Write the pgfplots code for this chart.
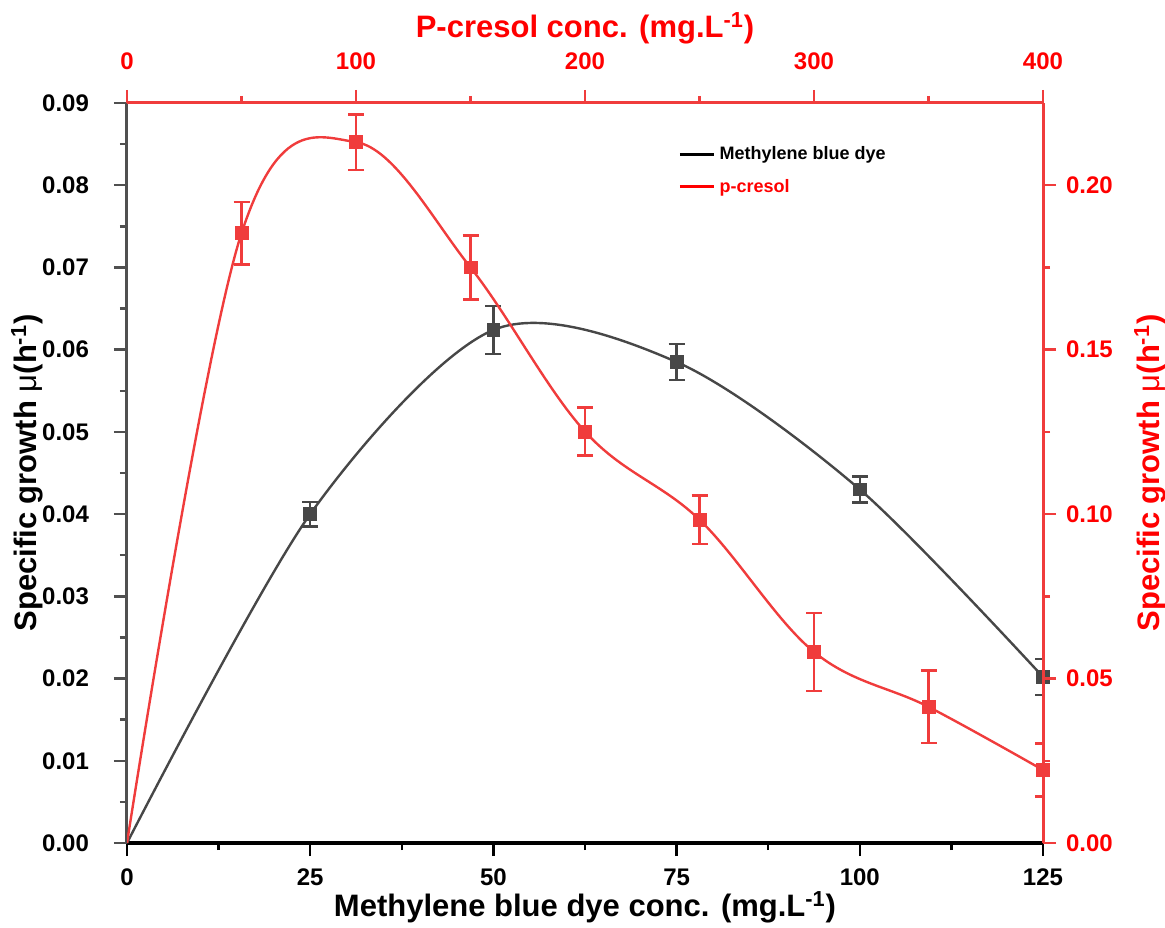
\documentclass[border=0pt]{standalone}
\usepackage{pgfplots}
\pgfplotsset{compat=1.18}
\usepackage{fontspec}
\setmainfont{Liberation Sans}
\definecolor{mbgray}{HTML}{474747}
\definecolor{axgray}{HTML}{505050}
\definecolor{pcred}{HTML}{F03C3C}
\definecolor{txtred}{HTML}{FF0000}

\begin{document}
\begin{tikzpicture}
\pgfplotsset{
  every axis/.append style={
    scale only axis, width=458pt, height=370pt,
    tick align=outside,
    major tick length=6.5pt, minor tick length=3.5pt,
    /pgf/number format/assume math mode=true,
    tick label style={font=\bfseries\fontsize{12}{12}\selectfont},
    label style={font=\bfseries\fontsize{15.5}{16}\selectfont},
  },
  twodec/.style={
    /pgf/number format/fixed,
    /pgf/number format/fixed zerofill,
    /pgf/number format/precision=2,
  },
  ebars/.style={
    error bars/.cd, y dir=both, y explicit,
    error bar style={line width=1.2pt},
    error mark options={rotate=90, mark size=4pt, line width=1.2pt},
  },
}
% methylene blue: bottom and left axes
\begin{axis}[
  xmin=0, xmax=125, ymin=0, ymax=0.09,
  axis x line*=bottom, axis y line*=left,
  x axis line style={black, line width=1.6pt, -},
  y axis line style={axgray, line width=1.5pt, -},
  xtick style={black, line width=1.2pt},
  ytick style={axgray, line width=1.2pt},
  xtick={0,25,50,75,100,125}, minor x tick num=1,
  ytick={0,0.01,0.02,0.03,0.04,0.05,0.06,0.07,0.08,0.09}, minor y tick num=1,
  scaled y ticks=false,
  yticklabel style={twodec, xshift=-9pt},
  xticklabel style={yshift=-3pt},
  xlabel={Methylene blue dye conc. (mg.L\textsuperscript{-1})},
  ylabel={Specific growth {\mdseries μ}(h\textsuperscript{-1})},
  xlabel style={at={(axis description cs:0.5,-0.087)}, anchor=center},
  ylabel style={at={(axis description cs:-0.109,0.5)}, anchor=center},
  legend style={draw=none, fill=none, at={(0.595,0.952)}, anchor=north west,
    font=\bfseries\fontsize{9}{11}\selectfont, row sep=4pt},
  legend cell align=left,
]
\addplot[mbgray, line width=1.2pt, smooth, forget plot] coordinates {
  (0,0) (25,0.0400) (50,0.0624) (75,0.0585) (100,0.0430) (125,0.0202)
};
\addplot[mbgray, only marks, mark=square*, mark size=3.2pt, forget plot, ebars] coordinates {
  (25,0.0400) +- (0,0.0015)
  (50,0.0624) +- (0,0.0029)
  (75,0.0585) +- (0,0.0022)
  (100,0.0430) +- (0,0.0016)
  (125,0.0202) +- (0,0.0022)
};
\addlegendimage{black, line width=1.5pt}
\addlegendentry{Methylene blue dye}
\addlegendimage{txtred, line width=1.5pt}
\addlegendentry{\textcolor{txtred}{p-cresol}}
\end{axis}
% p-cresol: top and right axes
\begin{axis}[
  xmin=0, xmax=400, ymin=0, ymax=0.225,
  axis x line*=top, axis y line*=right,
  x axis line style={pcred, line width=1.5pt, -},
  y axis line style={pcred, line width=1.5pt, -},
  xtick style={pcred, line width=1.2pt},
  ytick style={pcred, line width=1.2pt},
  xtick={0,100,200,300,400}, minor x tick num=1,
  ytick={0,0.05,0.10,0.15,0.20}, minor y tick num=1,
  scaled y ticks=false,
  yticklabel style={text=txtred, twodec, xshift=1.5pt},
  xticklabel style={text=txtred, yshift=6.5pt},
  label style={text=txtred},
  xlabel={P-cresol conc. (mg.L\textsuperscript{-1})},
  ylabel={Specific growth {\mdseries μ}(h\textsuperscript{-1})},
  xlabel style={at={(axis description cs:0.5,1.101)}, anchor=center},
  ylabel style={at={(axis description cs:1.117,0.5)}, anchor=center},
]
\addplot[pcred, line width=1.2pt, smooth, tension=0.6] coordinates {
  (0,0) (50,0.1854) (100,0.2131) (150,0.1750) (200,0.1251)
  (250,0.0983) (300,0.0581) (350,0.0414) (400,0.0222)
};
\addplot[pcred, only marks, mark=square*, mark size=3.2pt, ebars] coordinates {
  (50,0.1854) +- (0,0.0095)
  (100,0.2131) +- (0,0.0084)
  (150,0.1750) +- (0,0.0097)
  (200,0.1251) +- (0,0.0073)
  (250,0.0983) +- (0,0.0073)
  (300,0.0581) +- (0,0.0118)
  (350,0.0414) +- (0,0.0110)
  (400,0.0222) +- (0,0.0080)
};
\end{axis}
\pgfresetboundingbox
\path[use as bounding box] (-63.5pt,-42pt) rectangle (519pt,421.5pt);
\end{tikzpicture}
\end{document}
